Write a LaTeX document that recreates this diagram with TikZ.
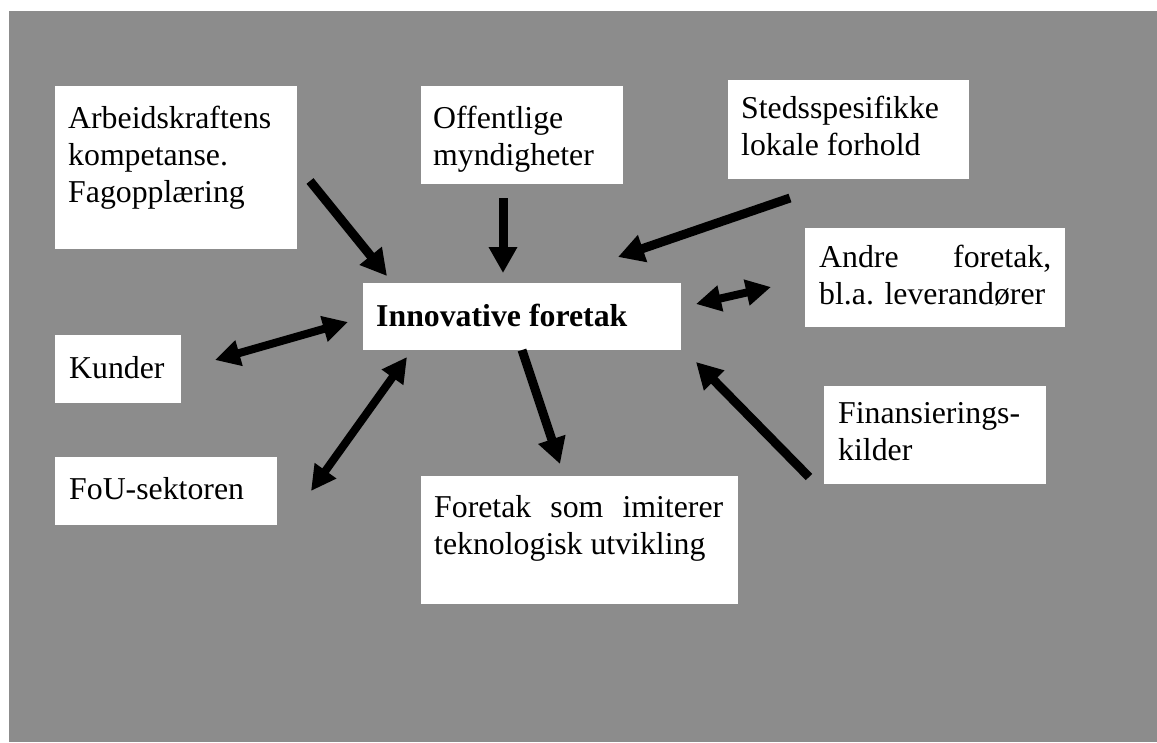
\documentclass[tikz,border=0pt]{standalone}
\usepackage{fontspec}
\setmainfont{Liberation Serif}
\usetikzlibrary{arrows.meta}
\definecolor{bg}{RGB}{140,140,140}
\begin{document}
\begin{tikzpicture}[x=1pt,y=-1pt,
  box/.style={fill=white, draw=none, inner sep=0pt, anchor=north west},
  txt/.style={inner sep=0pt, anchor=base west, align=left, font=\fontsize{31.8}{37}\selectfont},
  arr/.style={line width=9pt, -{Triangle[length=26pt,width=27pt]}},
  darr/.style={line width=8pt, {Triangle[length=25pt,width=25pt]}-{Triangle[length=25pt,width=25pt]}}]
\useasboundingbox (0,0) rectangle (1157,742);
\fill[bg] (9,11) rectangle (1157,742);
% boxes
\node[box, minimum width=242pt, minimum height=163pt] (arb) at (55,86) {};
\node[box, minimum width=202pt, minimum height=98pt] (off) at (421,86) {};
\node[box, minimum width=241pt, minimum height=99pt] (sted) at (728,80) {};
\node[box, minimum width=318pt, minimum height=67pt] (inno) at (363,283) {};
\node[box, minimum width=260pt, minimum height=99pt] (andre) at (805,228) {};
\node[box, minimum width=222pt, minimum height=98pt] (fin) at (824,386) {};
\node[box, minimum width=126pt, minimum height=68pt] (kund) at (55,335) {};
\node[box, minimum width=222pt, minimum height=68pt] (fou) at (55,457) {};
\node[box, minimum width=317pt, minimum height=128pt] (imit) at (421,476) {};
% texts (anchor = baseline of the last line)
\node[txt] (arbT) at (68,202) {Arbeidskraftens\\kompetanse.\\Fagopplæring};
\node[txt] (offT) at (433,165) {Offentlige\\myndigheter};
\node[txt] (stedT) at (741,155) {Stedsspesifikke\\lokale forhold};
\node[txt, font=\fontsize{31.8}{37}\selectfont\bfseries] (innoT) at (376,326) {Innovative foretak};
\node[txt] (andreT) at (819,304) {\makebox[232pt][s]{Andre\hfill foretak,}\\bl.a. leverandører};
\node[txt] (finT) at (838,460) {Finansierings-\\kilder};
\node[txt] (kundT) at (69,378) {Kunder};
\node[txt] (fouT) at (69,499) {FoU-sektoren};
\node[txt] (imitT) at (434,554) {\makebox[289pt][s]{Foretak\hfill som\hfill imiterer}\\teknologisk utvikling};
% arrow ends
\coordinate (a1) at (310,181); \coordinate (a2) at (387,276);
\coordinate (b1) at (503,198); \coordinate (b2) at (503,273);
\coordinate (c1) at (790,198); \coordinate (c2) at (618,257);
\coordinate (d1) at (696,304); \coordinate (d2) at (771,287);
\coordinate (e1) at (215,360); \coordinate (e2) at (348,322);
\coordinate (f1) at (311,491); \coordinate (f2) at (407,357);
\coordinate (g1) at (522,350); \coordinate (g2) at (560,464);
\coordinate (h1) at (809,477); \coordinate (h2) at (696,362);
\draw[arr] (a1) -- (a2);
\draw[arr] (b1) -- (b2);
\draw[arr] (c1) -- (c2);
\draw[darr] (d1) -- (d2);
\draw[darr] (e1) -- (e2);
\draw[darr] (f1) -- (f2);
\draw[arr] (g1) -- (g2);
\draw[arr] (h1) -- (h2);
\end{tikzpicture}
\end{document}
